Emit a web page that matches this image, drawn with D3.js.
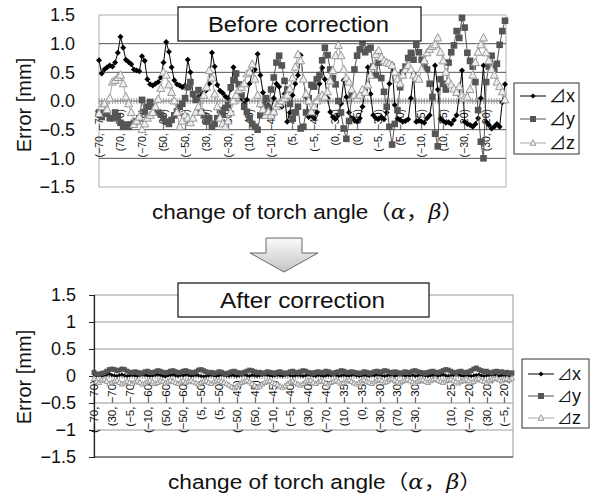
<!DOCTYPE html>
<html>
<head>
<meta charset="utf-8">
<script src="https://cdn.jsdelivr.net/npm/d3@7"></script>
<style>
  body { margin: 0; background: #fff; }
  text { font-family: "Liberation Sans", Arial, "Noto Sans CJK JP", sans-serif; fill: #111; }
</style>
</head>
<body>
<script>
// ---- data: before correction (152 measurements, label every 8th) ----
const beforeLabels = ["(−70, −70)", "(70, −70)", "(−70, −70)", "(50, −60)", "(−50, −60)",
  "(30, −50)", "(−30, −50)", "(10, −45)", "(−10, −45)", "(5, −40)", "(−5, −40)",
  "(0, −35)", "(0, −35)", "(−5, −30)", "(5, −30)", "(−10, −25)", "(10, −25)",
  "(−30, −20)", "(30, −20)"];

const beforeX = [
  0.71, 0.48, 0.55, 0.59, 0.62, 0.60, 0.67, 0.84,
  1.12, 0.93, 0.72, 0.68, 0.64, 0.55, 0.53, 0.52,
  0.78, 0.70, 0.38, 0.29, 0.27, 0.30, 0.33, 0.41,
  0.67, 1.03, 0.86, 0.59, 0.36, 0.29, 0.27, 0.24,
  0.27, 0.72, 0.50, 0.10, 0.03, 0.07, 0.10, 0.15,
  0.19, 0.30, 0.84, 0.60, 0.28, 0.18, 0.14, 0.08,
  0.05, 0.20, 0.59, 0.45, 0.15, 0.05, -0.05, 0.02,
  0.30, 0.50, 0.55, 0.82, 0.45, 0.15, 0.02, -0.08,
  -0.15, 0.05, 0.30, 0.25, -0.10, 0.12, -0.36, -0.20,
  0.10, 0.30, 0.45, 0.80, 0.38, 0.07, -0.28, -0.25,
  -0.30, -0.20, 0.30, 0.58, 0.38, 0.05, -0.19, -0.28,
  -0.31, -0.25, -0.05, 0.36, 0.07, -0.20, -0.30, -0.33,
  -0.36, -0.30, -0.10, 0.19, 0.59, 0.12, -0.25, -0.30,
  -0.31, -0.28, -0.32, -0.20, 0.30, 0.64, -0.07, -0.31,
  -0.33, -0.36, -0.35, -0.32, 0.05, 0.47, -0.36, -0.34,
  -0.36, -0.38, -0.30, -0.25, 0.05, 0.62, 0.20, -0.31,
  -0.35, -0.38, -0.37, -0.40, -0.33, -0.25, 0.10, 0.53,
  -0.36, -0.40, -0.42, -0.45, -0.40, -0.30, 0.05, 0.62,
  -0.36, -0.42, -0.48, -0.45, -0.40, -0.45, -0.02, 0.29
];

const beforeY = [
  -0.20, -0.28, -0.16, -0.22, -0.30, -0.30, -0.20, -0.28,
  -0.38, -0.45, -0.41, -0.45, -0.41, -0.38, -0.35, -0.30,
  0.02, -0.19, -0.10, -0.02, -0.10, -0.16, -0.20, -0.24,
  -0.30, -0.36, -0.40, -0.33, -0.25, -0.18, -0.10, -0.05,
  0.05, 0.24, 0.33, 0.12, 0.02, 0.19, -0.19, -0.25,
  -0.36, -0.30, -0.45, -0.40, -0.30, -0.16, -0.24, -0.12,
  -0.07, 0.24, 0.36, 0.48, 0.29, 0.10, -0.10, -0.19,
  -0.30, -0.40, -0.45, -0.50, -0.25, -0.07, 0.05, -0.12,
  0.20, 0.41, 0.67, 0.79, 0.62, 0.35, 0.20, -0.05,
  -0.31, -0.20, -0.10, -0.48, -0.45, -0.20, 0.05, 0.28,
  0.25, 0.38, 0.45, 0.71, 0.93, 0.80, 0.55, 0.40,
  0.29, 0.00, -0.20, -0.48, -0.66, -0.35, 0.10, 0.55,
  0.79, 0.90, 1.02, 0.85, 0.90, 0.93, 0.60, 0.45,
  0.67, 0.40, 0.16, -0.10, -0.45, -0.76, -0.40, -0.16,
  0.24, 0.50, 0.60, 0.75, 0.84, 0.72, 0.98, 0.85,
  0.72, 0.65, 0.55, 0.30, 0.07, -0.57, -0.79, 0.38,
  0.30, 0.20, 0.67, 0.85, 0.97, 1.22, 1.10, 1.45,
  1.28, 0.84, 0.70, 0.60, 0.33, -0.16, -0.71, -1.00,
  0.33, 0.60, 0.79, 0.55, 0.65, 0.98, 1.22, 1.40
];

const beforeZ = [
  -0.22, -0.10, -0.05, -0.15, 0.05, 0.33, 0.36, 0.41,
  0.45, 0.30, 0.07, -0.05, -0.20, -0.41, -0.35, -0.28,
  -0.50, -0.40, -0.30, -0.25, -0.20, -0.10, 0.03, 0.22,
  0.50, 0.45, 0.28, 0.15, 0.00, -0.20, -0.45, -0.35,
  -0.25, -0.30, -0.38, -0.30, -0.20, -0.10, -0.19, 0.10,
  0.24, 0.53, 0.40, 0.12, -0.10, -0.30, -0.40, -0.45,
  -0.35, -0.20, 0.00, 0.10, 0.19, 0.24, 0.30, 0.47,
  0.50, 0.64, 0.38, 0.10, -0.05, -0.15, -0.25, -0.19,
  -0.25, -0.19, -0.10, -0.05, 0.00, 0.05, 0.10, 0.21,
  0.40, 0.59, 0.81, 0.70, 0.38, 0.12, 0.00, -0.19,
  -0.10, 0.00, 0.07, 0.10, 0.07, 0.16, 0.35, 0.53,
  0.79, 0.97, 0.79, 0.55, 0.40, 0.33, 0.20, 0.10,
  0.05, 0.10, 0.20, 0.15, 0.28, 0.45, 0.60, 0.81,
  0.88, 0.76, 0.70, 0.67, 0.65, 0.62, 0.50, 0.38,
  0.30, 0.45, 0.55, 0.62, 0.55, 0.45, 0.40, 0.38,
  0.55, 0.70, 0.84, 0.90, 0.95, 0.98, 1.10, 0.85,
  0.70, 0.50, 0.35, 0.28, 0.21, 0.15, 0.25, 0.10,
  0.05, 0.07, 0.20, 0.45, 0.67, 0.85, 0.98, 1.10,
  0.84, 0.70, 0.55, 0.45, 0.33, 0.25, 0.16, 0.02
];

// ---- data: after correction (165 measurements, label every 7th) ----
const afterLabels = ["(−70, −70)", "(30, −70)", "(−5, −70)", "(−10, −60)", "(50, −60)",
  "(−50, −60)", "(5, −50)", "(5, −50)", "(−50, −45)", "(50, −45)", "(−10, −45)",
  "(−5, −40)", "(30, −40)", "(−70, −40)", "(10, −35)", "(0, −35)", "(−30, −30)",
  "(70, −30)", "(−30, −30)", "", "(10, −25)", "(−70, −20)", "(30, −20)", "(−5, −20)"];

const afterX = [
  0.03, 0.01, 0.02, 0.00, 0.01, 0.03, 0.04, 0.02, 0.01, 0.00, 0.02, 0.03, 0.01, 0.00, 0.01,
  0.02, 0.01, 0.00, 0.02, 0.03, 0.02, 0.01, 0.00, 0.01, 0.02, 0.03, 0.02, 0.00, -0.01, 0.01,
  0.02, 0.03, 0.01, 0.00, 0.02, 0.01, 0.03, 0.02, 0.00, 0.01, 0.02, 0.01, 0.00, -0.01, 0.00,
  0.01, 0.02, 0.01, 0.00, 0.01, 0.03, 0.02, 0.01, 0.00, 0.02, 0.01, 0.00, 0.01, 0.02, 0.03,
  0.01, 0.00, 0.02, 0.01, 0.00, 0.01, 0.02, 0.03, 0.02, 0.01, 0.00, 0.01, 0.02, 0.01, 0.00,
  0.02, 0.03, 0.01, 0.00, 0.01, 0.02, 0.01, 0.00, 0.01, 0.03, 0.02, 0.01, 0.00, 0.02, 0.01,
  0.00, 0.01, 0.02, 0.01, 0.03, 0.02, 0.00, 0.01, 0.02, 0.01, 0.00, 0.02, 0.03, 0.01, 0.00,
  0.01, 0.02, 0.01, 0.00, 0.02, 0.01, 0.03, 0.02, 0.01, 0.00, 0.01, 0.02, 0.01, 0.00, 0.02,
  0.03, 0.02, 0.01, 0.00, 0.01, 0.02, 0.00, 0.01, 0.03, 0.02, 0.01, 0.00, 0.01, 0.02, 0.01,
  0.00, 0.02, 0.03, 0.01, 0.00, 0.01, 0.02, 0.04, 0.03, 0.01, 0.00, 0.02, 0.01, 0.00, 0.01,
  0.02, 0.03, 0.01, 0.00, 0.01, 0.02, 0.03, 0.02, 0.01, 0.00, 0.02, 0.01, 0.00, 0.01, 0.02
];

const afterY = [
  0.07, 0.04, 0.03, 0.05, 0.06, 0.09, 0.12, 0.13, 0.12, 0.10, 0.11, 0.13, 0.12, 0.09, 0.07,
  0.06, 0.08, 0.07, 0.05, 0.06, 0.08, 0.09, 0.07, 0.06, 0.08, 0.10, 0.09, 0.07, 0.06, 0.07,
  0.09, 0.10, 0.08, 0.06, 0.07, 0.09, 0.10, 0.08, 0.07, 0.06, 0.08, 0.11, 0.12, 0.10, 0.08,
  0.06, 0.07, 0.05, 0.06, 0.08, 0.07, 0.05, 0.04, 0.06, 0.08, 0.09, 0.07, 0.06, 0.05, 0.07,
  0.09, 0.11, 0.10, 0.08, 0.06, 0.07, 0.05, 0.06, 0.08, 0.07, 0.06, 0.05, 0.07, 0.08, 0.06,
  0.05, 0.06, 0.08, 0.09, 0.07, 0.06, 0.08, 0.10, 0.09, 0.07, 0.06, 0.05, 0.07, 0.08, 0.06,
  0.07, 0.09, 0.08, 0.06, 0.05, 0.07, 0.08, 0.10, 0.09, 0.07, 0.06, 0.08, 0.07, 0.06, 0.05,
  0.06, 0.08, 0.07, 0.05, 0.06, 0.08, 0.09, 0.07, 0.08, 0.10, 0.09, 0.07, 0.06, 0.08, 0.07,
  0.05, 0.06, 0.08, 0.07, 0.06, 0.09, 0.10, 0.08, 0.07, 0.06, 0.05, 0.07, 0.08, 0.09, 0.07,
  0.06, 0.08, 0.10, 0.12, 0.11, 0.09, 0.07, 0.06, 0.08, 0.09, 0.07, 0.06, 0.08, 0.10, 0.13,
  0.15, 0.12, 0.10, 0.08, 0.09, 0.07, 0.06, 0.08, 0.09, 0.07, 0.08, 0.06, 0.07, 0.05, 0.06
];

const afterZ = [
  -0.05, -0.10, -0.12, -0.08, -0.06, -0.10, -0.14, -0.12, -0.10, -0.08, -0.12, -0.15, -0.13, -0.10, -0.12,
  -0.14, -0.11, -0.09, -0.12, -0.15, -0.13, -0.10, -0.08, -0.11, -0.14, -0.12, -0.09, -0.10, -0.13, -0.11,
  -0.08, -0.10, -0.12, -0.14, -0.11, -0.09, -0.12, -0.10, -0.08, -0.11, -0.13, -0.15, -0.12, -0.10, -0.09,
  -0.12, -0.14, -0.11, -0.09, -0.08, -0.10, -0.12, -0.14, -0.17, -0.20, -0.22, -0.19, -0.15, -0.12, -0.10,
  -0.08, -0.11, -0.14, -0.18, -0.21, -0.19, -0.15, -0.12, -0.10, -0.09, -0.12, -0.14, -0.16, -0.19, -0.21,
  -0.18, -0.14, -0.11, -0.09, -0.12, -0.15, -0.17, -0.14, -0.11, -0.09, -0.08, -0.12, -0.14, -0.11, -0.09,
  -0.10, -0.13, -0.15, -0.12, -0.10, -0.08, -0.11, -0.14, -0.12, -0.09, -0.07, -0.10, -0.13, -0.15, -0.12,
  -0.09, -0.07, -0.10, -0.12, -0.14, -0.11, -0.08, -0.06, -0.09, -0.12, -0.10, -0.07, -0.05, -0.08, -0.11,
  -0.13, -0.10, -0.08, -0.06, -0.09, -0.11, -0.13, -0.10, -0.08, -0.07, -0.10, -0.12, -0.09, -0.07, -0.05,
  -0.08, -0.10, -0.12, -0.09, -0.07, -0.06, -0.09, -0.11, -0.13, -0.10, -0.08, -0.06, -0.09, -0.12, -0.10,
  -0.07, -0.05, -0.08, -0.10, -0.12, -0.09, -0.07, -0.05, -0.04, -0.07, -0.09, -0.06, -0.05, -0.07, -0.04
];

const yTicks = [-1.5, -1, -0.5, 0, 0.5, 1, 1.5];
const seriesNames = ["x", "y", "z"];

const svg = d3
  .select("body")
  .append("svg")
  .attr("width", 592)
  .attr("height", 494);

// marker shapes
function markerPath(kind, r) {
  if (kind === "diamond") return `M0,${-r}L${r},0L0,${r}L${-r},0Z`;
  if (kind === "square") return `M${-r},${-r}H${r}V${r}H${-r}Z`;
  return `M0,${-r * 1.1}L${r},${r * 0.75}L${-r},${r * 0.75}Z`;
}

const styles = [
  { kind: "diamond", line: "#000", fill: "#000", stroke: "none" },
  { kind: "square", line: "#555", fill: "#555", stroke: "none" },
  { kind: "triangle", line: "#a8a8a8", fill: "#eee", stroke: "#999" }
];

function drawPanel(p) {
  const g = svg.append("g");
  const n = p.series[0].length;

  const x = d3.scalePoint().domain(d3.range(n)).range([p.x0, p.x1]);
  const y = d3.scaleLinear().domain([-1.5, 1.5]).range([p.bottom, p.top]);

  // plot frame
  g.append("rect")
    .attr("x", p.left)
    .attr("y", p.top)
    .attr("width", p.right - p.left)
    .attr("height", p.bottom - p.top)
    .attr("fill", "#fff")
    .attr("stroke", p.frame)
    .attr("stroke-width", 1);

  // gridlines
  g.selectAll(".grid")
    .data(yTicks.filter(d => d !== 0 && Math.abs(d) !== 1.5))
    .enter()
    .append("line")
    .attr("x1", p.left)
    .attr("x2", p.right)
    .attr("y1", d => y(d))
    .attr("y2", d => y(d))
    .attr("stroke", p.grid)
    .attr("stroke-width", 1);

  if (p.baseLine) {
    g.append("line")
      .attr("x1", p.left).attr("x2", p.right)
      .attr("y1", y(-1.5)).attr("y2", y(-1.5))
      .attr("stroke", p.baseLine);
  }

  // y axis
  const yAxis = g
    .append("g")
    .attr("transform", `translate(${p.left},0)`)
    .call(
      d3.axisLeft(y)
        .tickValues(yTicks)
        .tickFormat(p.fmt)
        .tickSize(p.tickOut)
        .tickPadding(p.tickPad)
    );
  yAxis.select(".domain").attr("stroke", p.axisColor).attr("stroke-width", 1.2);
  yAxis.selectAll(".tick line").attr("stroke", p.axisColor);
  yAxis.selectAll(".tick text")
    .attr("font-size", "18px")
    .attr("fill", "#111")
    .style("font-family", '"Liberation Sans", Arial, sans-serif');
  if (!p.showDomain) yAxis.select(".domain").remove();

  // category axis at zero with dense ticks
  g.append("line")
    .attr("x1", p.left).attr("x2", p.right)
    .attr("y1", y(0)).attr("y2", y(0))
    .attr("stroke", "#555");
  g.selectAll(".ctick")
    .data(d3.range(n))
    .enter()
    .append("line")
    .attr("x1", d => x(d))
    .attr("x2", d => x(d))
    .attr("y1", y(0) - 3)
    .attr("y2", y(0) + 3)
    .attr("stroke", "#888")
    .attr("stroke-width", 0.8);

  // category labels (rotated)
  g.selectAll(".clabel")
    .data(p.labels)
    .enter()
    .append("text")
    .attr("transform", (d, i) =>
      `translate(${x(i * p.interval) + p.labelSize * 0.36},${y(0) + p.labelGap}) rotate(-90)`)
    .attr("text-anchor", "end")
    .attr("font-size", p.labelSize + "px")
    .attr("fill", "#222")
    .text(d => d);

  // series
  p.series.forEach((vals, k) => {
    const st = styles[k];
    const line = d3.line().x((d, i) => x(i)).y(d => y(d));
    g.append("path")
      .datum(vals)
      .attr("d", line)
      .attr("fill", "none")
      .attr("stroke", st.line)
      .attr("stroke-width", 1);
    g.selectAll(".m" + k)
      .data(vals)
      .enter()
      .append("path")
      .attr("transform", (d, i) => `translate(${x(i)},${y(d)})`)
      .attr("d", markerPath(st.kind, p.markerR[k]))
      .attr("fill", st.fill)
      .attr("stroke", st.stroke)
      .attr("stroke-width", 1);
  });

  // title box
  const tb = p.titleBox;
  g.append("rect")
    .attr("x", tb[0]).attr("y", tb[1])
    .attr("width", tb[2] - tb[0]).attr("height", tb[3] - tb[1])
    .attr("fill", "#fff")
    .attr("stroke", "#222")
    .attr("stroke-width", 1.3);
  g.append("text")
    .attr("x", (tb[0] + tb[2]) / 2 - 1)
    .attr("y", (tb[1] + tb[3]) / 2 + 8)
    .attr("text-anchor", "middle")
    .attr("font-size", "22px")
    .attr("textLength", p.titleLen)
    .attr("lengthAdjust", "spacingAndGlyphs")
    .text(p.title);

  // legend
  const lb = p.legendBox;
  g.append("rect")
    .attr("x", lb[0]).attr("y", lb[1])
    .attr("width", lb[2] - lb[0]).attr("height", lb[3] - lb[1])
    .attr("fill", "#fff")
    .attr("stroke", "#333")
    .attr("stroke-width", 1);
  seriesNames.forEach((name, k) => {
    const st = styles[k];
    const ly = p.legendRows[k];
    g.append("line")
      .attr("x1", lb[0] + 6).attr("x2", lb[0] + 32)
      .attr("y1", ly).attr("y2", ly)
      .attr("stroke", st.line);
    g.append("path")
      .attr("transform", `translate(${lb[0] + 19},${ly})`)
      .attr("d", markerPath(st.kind, k === 0 ? 2.5 : 3))
      .attr("fill", st.fill)
      .attr("stroke", st.stroke);
    const lt = g.append("text")
      .attr("x", lb[0] + 35)
      .attr("y", ly + 6)
      .attr("font-size", p.legendFont + "px");
    lt.append("tspan")
      .style("font-family", '"Noto Sans CJK JP", sans-serif')
      .text("⊿");
    lt.append("tspan")
      .attr("font-size", "18px")
      .text(name);
  });

  // axis titles
  g.append("text")
    .attr("transform", `translate(${p.yTitle[0]},${p.yTitle[1]}) rotate(-90)`)
    .attr("text-anchor", "middle")
    .attr("font-size", "20px")
    .text("Error [mm]");

  const xt = g.append("text")
    .attr("x", p.xTitle[0])
    .attr("y", p.xTitle[1])
    .attr("font-size", "20px")
    .attr("textLength", p.xTitleLen)
    .attr("lengthAdjust", "spacingAndGlyphs");
  xt.append("tspan").text("change of torch angle（");
  xt.append("tspan").attr("font-style", "italic")
    .style("font-family", '"DejaVu Serif", serif').text("α");
  xt.append("tspan").text("，");
  xt.append("tspan").attr("font-style", "italic")
    .style("font-family", '"DejaVu Serif", serif').text("β");
  xt.append("tspan").text("）");
}

drawPanel({
  series: [beforeX, beforeY, beforeZ],
  labels: beforeLabels,
  interval: 8,
  left: 99, right: 506, top: 15, bottom: 187,
  x0: 99, x1: 505,
  frame: "#b0b0b0", grid: "#555", axisColor: "#b0b0b0",
  showDomain: false, tickOut: 0, tickPad: 24,
  fmt: d3.format(".1f"),
  labelSize: 10.5, labelGap: 8,
  markerR: [3, 3.3, 4],
  title: "Before correction", titleBox: [178, 7, 421, 41], titleLen: 181,
  legendBox: [514, 83, 579, 154], legendRows: [96, 119, 143], legendFont: 17,
  yTitle: [31, 105],
  xTitle: [152, 219], xTitleLen: 312
});

drawPanel({
  series: [afterX, afterY, afterZ],
  labels: afterLabels,
  interval: 7,
  left: 94, right: 513, top: 295, bottom: 457,
  x0: 94, x1: 512,
  frame: "#999", grid: "#999", axisColor: "#222", baseLine: "#444",
  showDomain: true, tickOut: 5, tickPad: 13,
  fmt: d3.format(""),
  labelSize: 11.5, labelGap: 4,
  markerR: [2, 2.4, 2.6],
  title: "After correction", titleBox: [178, 283, 429, 317], titleLen: 165,
  legendBox: [522, 359, 589, 428], legendRows: [374, 396, 418], legendFont: 15,
  yTitle: [31, 377],
  xTitle: [168, 489], xTitleLen: 314
});

// downward block arrow between the panels
const defs = svg.append("defs");
const grad = defs.append("linearGradient")
  .attr("id", "arrowFill")
  .attr("x1", 0).attr("y1", 0).attr("x2", 0).attr("y2", 1);
grad.append("stop").attr("offset", "0%").attr("stop-color", "#fafafa");
grad.append("stop").attr("offset", "100%").attr("stop-color", "#c4c4c4");

const ax = 284;
svg.append("path")
  .attr("d", `M${ax - 18},238H${ax + 18}V253H${ax + 34}L${ax},272L${ax - 34},253H${ax - 18}Z`)
  .attr("fill", "url(#arrowFill)")
  .attr("stroke", "#666")
  .attr("stroke-width", 1);
</script>
</body>
</html>
